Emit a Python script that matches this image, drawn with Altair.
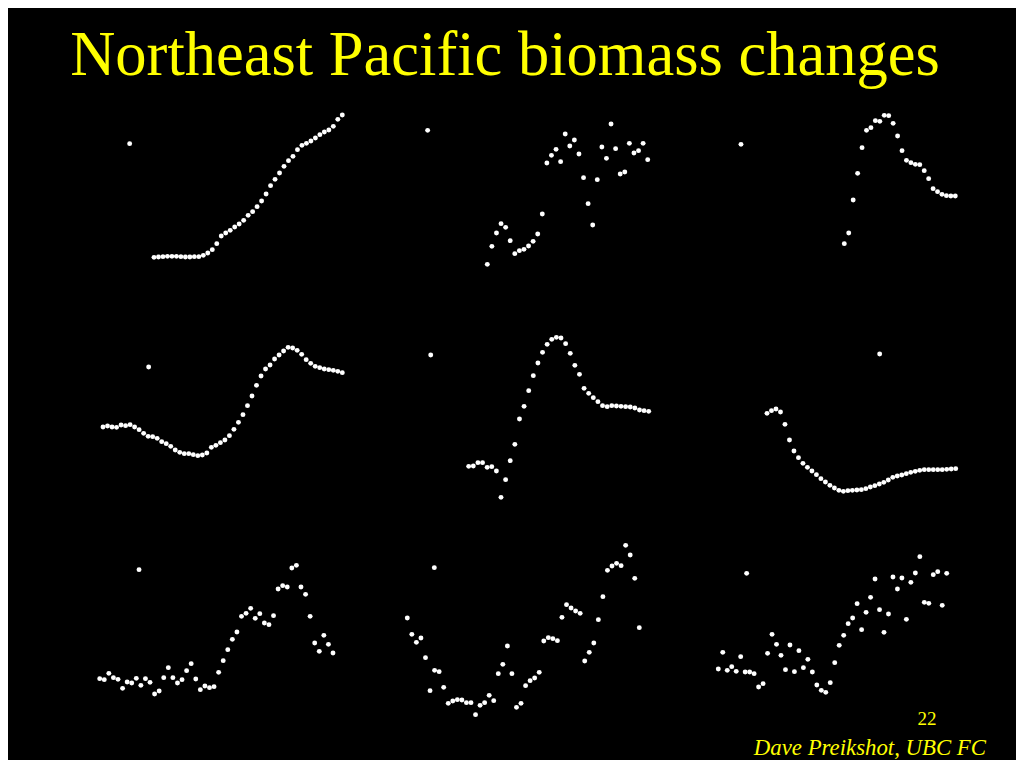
import altair as alt
import pandas as pd

TITLE = "Northeast Pacific biomass changes"
PAGE_NUMBER = "22"
CREDIT = "Dave Preikshot, UBC FC"

# Relative biomass index per year (arbitrary units)
P1 = [53, 54, 55, 56, 56, 56, 55, 54, 54, 55, 55, 59, 66, 76, 94, 117, 126, 134, 144, 153,
      164, 179, 190, 205, 222, 243, 268, 287, 306, 326, 343, 356, 376, 389, 395, 402, 411,
      421, 429, 435, 446, 467, 480]
P2 = [32, 86, 126, 154, 143, 103, 64, 73, 77, 87, 101, 123, 183, 336, 359, 377, 340, 423,
      387, 405, 363, 292, 214, 150, 286, 384, 350, 453, 379, 303, 309, 395, 366, 373, 395, 346]
P3 = [34, 66, 165, 245, 322, 374, 382, 403, 401, 419, 418, 395, 357, 313, 284, 277, 272,
      271, 253, 229, 199, 190, 182, 178, 177, 177]
P4 = [114, 117, 114, 113, 120, 118, 121, 114, 106, 95, 86, 85, 80, 70, 64, 56, 45, 38, 34,
      34, 31, 28, 30, 36, 53, 59, 67, 75, 88, 107, 128, 151, 178, 207, 239, 267, 288, 300,
      318, 330, 342, 353, 351, 344, 332, 316, 305, 296, 292, 288, 286, 284, 281, 277]
P5 = [116, 117, 127, 127, 113, 115, 102, 23, 76, 133, 182, 258, 296, 343, 388, 426, 458,
      482, 497, 503, 501, 484, 455, 419, 392, 350, 335, 322, 310, 298, 295, 298, 297, 296,
      295, 294, 291, 285, 283, 281]
P6 = [260, 268, 273, 264, 227, 180, 147, 127, 110, 98, 87, 76, 64, 54, 44, 36, 29, 26, 28,
      29, 30, 31, 34, 39, 43, 48, 53, 60, 68, 72, 75, 79, 83, 86, 89, 91, 91, 91, 91, 91, 92,
      93, 94]
P7 = [64, 61, 80, 67, 62, 35, 54, 51, 65, 44, 64, 53, 18, 27, 67, 97, 67, 51, 61, 88, 109,
      63, 31, 42, 37, 40, 83, 118, 151, 182, 204, 251, 260, 275, 245, 259, 231, 226, 253,
      333, 343, 339, 396, 404, 339, 317, 251, 171, 146, 194, 167, 141]
P8 = [306, 257, 233, 246, 187, 88, 149, 145, 98, 50, 57, 61, 60, 52, 52, 16, 44, 52, 74, 58,
      139, 167, 222, 139, 38, 50, 103, 118, 126, 143, 237, 247, 244, 238, 308, 346, 336, 327,
      320, 177, 203, 231, 301, 370, 449, 462, 470, 463, 524, 495, 425, 277]
P9 = [78, 128, 74, 85, 71, 115, 69, 69, 64, 24, 34, 125, 182, 152, 119, 76, 150, 70, 133, 82,
      107, 69, 30, 14, 8, 37, 97, 149, 179, 214, 231, 274, 196, 248, 293, 348, 256, 188, 243,
      354, 318, 351, 227, 338, 366, 415, 278, 275, 361, 370, 269, 365]
SERIES = [P1, P2, P3, P4, P5, P6, P7, P8, P9]

# the lone marker dot in each panel (position in the panel's own units)
MARKER_INDEX = [-5.43, -13.02, -23.27, 10.11, -8.23, 25.08, 8.6, 5.94, 6.33]
MARKER_VALUE = [394, 434, 332, 294, 450, 438, 391, 457, 365]
VALUE_MAX = [510, 495, 450, 405, 525, 480, 435, 555, 450]

# layout: pixel ranges of each panel inside the 1008x752 chart
PANEL_X = [(146, 334.3), (479.3, 639.7), (836.3, 947.3),
           (95, 334.3), (460.7, 640.7), (759, 947.7),
           (91.7, 325), (399.3, 631.3), (710.3, 938.7)]
PANEL_Y = [(267, 97), (267, 102), (247, 97),
           (457, 322), (497, 322), (492, 332),
           (692, 547), (712, 527), (687, 537)]

YELLOW = "#FFFF00"
SERIF = "Liberation Serif"

layers = []
for k, vals in enumerate(SERIES):
    n = len(vals)
    df = pd.DataFrame({
        "i": list(range(n)) + [MARKER_INDEX[k]],
        "v": vals + [MARKER_VALUE[k]],
    })
    layers.append(
        alt.Chart(df).mark_circle(size=24, color="white", opacity=1).encode(
            x=alt.X("i:Q", axis=None,
                    scale=alt.Scale(domain=[0, n - 1], range=list(PANEL_X[k]),
                                    zero=False, nice=False)),
            y=alt.Y("v:Q", axis=None,
                    scale=alt.Scale(domain=[0, VALUE_MAX[k]], range=list(PANEL_Y[k]),
                                    zero=False, nice=False)),
        )
    )

title = alt.Chart(pd.DataFrame({"t": [TITLE]})).mark_text(
    font=SERIF, fontSize=62.5, color=YELLOW, align="center", baseline="alphabetic"
).encode(text="t:N", x=alt.value(497), y=alt.value(67))

page = alt.Chart(pd.DataFrame({"t": [PAGE_NUMBER]})).mark_text(
    font=SERIF, fontSize=19, color=YELLOW, align="center", baseline="alphabetic"
).encode(text="t:N", x=alt.value(919), y=alt.value(717))

credit = alt.Chart(pd.DataFrame({"t": [CREDIT]})).mark_text(
    font=SERIF, fontSize=22.8, fontStyle="italic", color=YELLOW, align="right",
    baseline="alphabetic"
).encode(text="t:N", x=alt.value(978), y=alt.value(747))

chart = alt.layer(title, *layers, page, credit).resolve_scale(
    x="independent", y="independent"
).properties(
    width=1008, height=752, background="black", padding=0,
    autosize=alt.AutoSizeParams(type="none"),
).configure_view(stroke=None)

chart.save("out.html", embed_options={"renderer": "svg", "actions": False})
